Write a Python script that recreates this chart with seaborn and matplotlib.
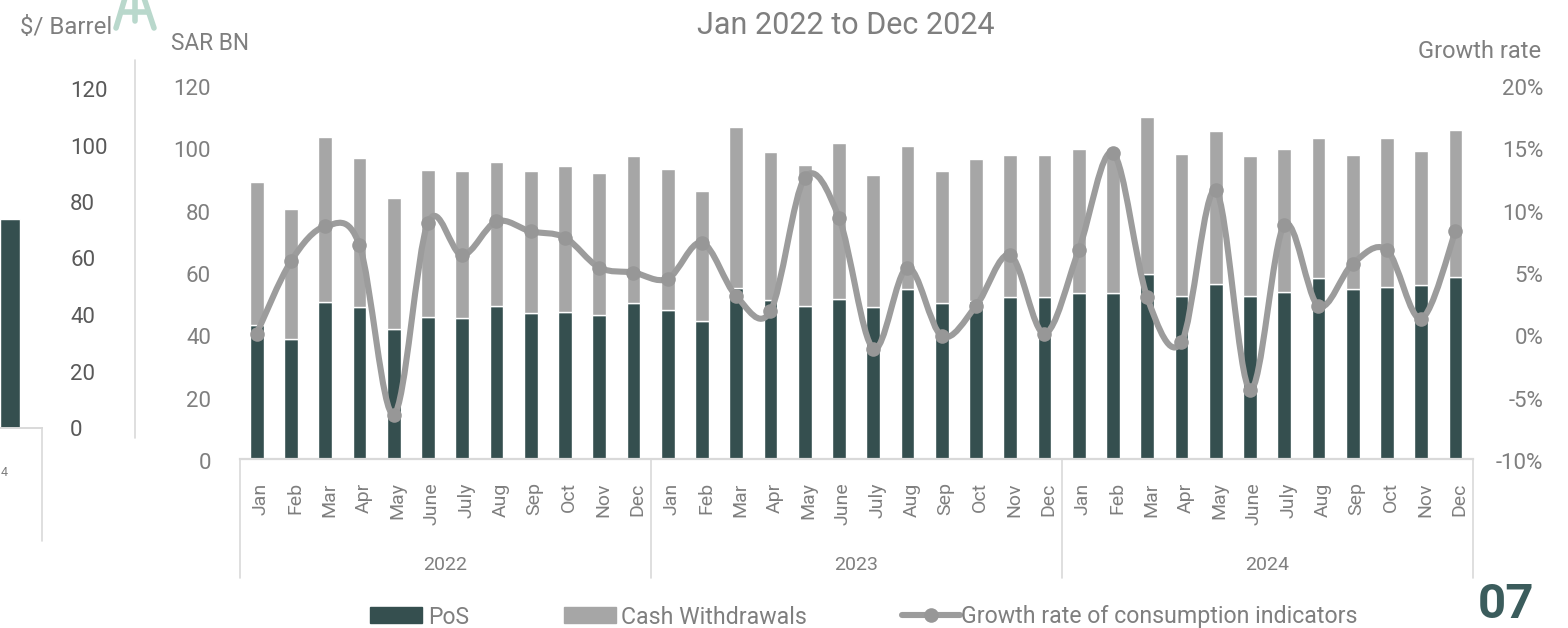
import matplotlib
matplotlib.use("Agg")
import matplotlib.pyplot as plt
from matplotlib.lines import Line2D
from matplotlib.patches import PathPatch, Rectangle
from matplotlib.path import Path
from matplotlib.transforms import ScaledTranslation
import numpy as np
import pandas as pd
import seaborn as sns

years = ["2022", "2023", "2024"]
months = ["Jan", "Feb", "Mar", "Apr", "May", "June", "July", "Aug", "Sep", "Oct", "Nov", "Dec"]

pos_values = [43.1, 38.5, 50.5, 49.0, 41.9, 45.6, 45.4, 49.2, 47.1, 47.3, 46.4, 50.2,
              47.9, 44.4, 55.0, 51.2, 49.3, 51.5, 48.9, 54.7, 50.2, 50.9, 52.0, 52.0,
              53.4, 53.4, 59.4, 52.5, 56.2, 52.4, 53.7, 58.2, 54.6, 55.3, 56.0, 58.7]
cash_values = [45.9, 41.8, 53.0, 47.7, 41.9, 47.3, 47.1, 46.3, 45.5, 46.9, 45.4, 47.3,
               45.2, 41.8, 51.8, 47.4, 45.1, 50.2, 42.4, 46.0, 42.3, 45.4, 45.6, 45.7,
               46.1, 46.1, 50.6, 45.5, 49.2, 44.9, 45.9, 45.0, 43.1, 47.8, 43.0, 47.2]
growth_values = [0.1, 5.9, 8.7, 7.2, -6.4, 9.0, 6.4, 9.1, 8.3, 7.8, 5.4, 5.0,
                 4.5, 7.4, 3.1, 1.9, 12.6, 9.4, -1.1, 5.4, -0.1, 2.3, 6.4, 0.1,
                 6.8, 14.6, 3.0, -0.6, 11.6, -4.4, 8.8, 2.3, 5.7, 6.8, 1.3, 8.3]
oil_price = [74]

bar_ticks = [0, 20, 40, 60, 80, 100, 120]
growth_ticks = [-10, -5, 0, 5, 10, 15, 20]

DARK = "#354F4F"
GREY_BAR = "#A6A6A6"
GREY_LINE = "#9C9C9C"
GREY_MARK = "#979797"
TEXT = "#7F7F7F"
RULE = "#D9D9D9"
W, H = 1568, 628

sns.set_theme(style="white")
plt.rcParams["font.family"] = ["Roboto", "DejaVu Sans"]

fig = plt.figure(figsize=(W / 100, H / 100), dpi=100, facecolor="white")


def rect(x0, ytop, x1, ybot):
    return [x0 / W, 1 - ybot / H, (x1 - x0) / W, (ybot - ytop) / H]


def label(x, y, s, size=14, color=TEXT, ha="left", va="center", **kw):
    fig.text(x / W, 1 - y / H, s, fontsize=size, color=color, ha=ha, va=va, **kw)


def rule(xs, ys, color=RULE, lw=1.2, **kw):
    fig.add_artist(Line2D([x / W for x in xs], [1 - y / H for y in ys],
                          transform=fig.transFigure, color=color, lw=lw, **kw))


def nudge(labels, dx_px=0, dy_px=0):
    shift = ScaledTranslation(dx_px / 100, dy_px / 100, fig.dpi_scale_trans)
    for lab in labels:
        lab.set_transform(lab.get_transform() + shift)


# Main panel: stacked monthly bars
ax = fig.add_axes(rect(239.6, 85.6, 1472.6, 459.4))
frame = pd.DataFrame({
    "period": [f"{y} {m}" for y in years for m in months],
    "pos": pos_values,
    "cash": cash_values,
})
sns.barplot(data=frame, x="period", y="pos", color=DARK, saturation=1, width=0.4, ax=ax)
sns.barplot(data=frame, x="period", y="cash", bottom=frame["pos"], color=GREY_BAR,
            saturation=1, width=0.4, ax=ax)
ax.set_xlim(-0.5, 35.5)
ax.set_ylim(0, 120)
ax.set_xlabel("")
ax.set_ylabel("")
ax.set_yticks(bar_ticks)
ax.tick_params(axis="y", length=0, pad=20.6, labelsize=16, labelcolor=TEXT)
ax.set_xticks(range(36))
ax.set_xticklabels(months * 3, rotation=90, va="top", ha="center", fontsize=14, color=TEXT)
ax.tick_params(axis="x", length=0, pad=16.5)
nudge(ax.get_yticklabels(), dy_px=-1.5)
nudge(ax.get_xticklabels(), dx_px=4)
for name in ("top", "left", "right"):
    ax.spines[name].set_visible(False)
ax.spines["bottom"].set_color(RULE)
ax.spines["bottom"].set_linewidth(1.6)

# Year brackets beneath the month labels
for x in (239.6, 651, 1062, 1472.6):
    rule([x, x], [460, 578])
for i, y in enumerate(years):
    ax.text(5.5 + 12 * i, -0.283, y, transform=ax.get_xaxis_transform(),
            ha="center", va="center", fontsize=14, color=TEXT)

# Growth rate on the secondary axis, smoothed between monthly values
axr = ax.twinx()
axr.set_ylim(-10, 20)
axr.set_yticks(growth_ticks)
axr.set_yticklabels([f"{t}%" for t in growth_ticks])
axr.tick_params(axis="y", length=0, pad=51, labelsize=16, labelcolor=TEXT)
for lab in axr.get_yticklabels():
    lab.set_ha("right")
nudge(axr.get_yticklabels(), dy_px=-1.5)
for spine in axr.spines.values():
    spine.set_visible(False)

xs = np.arange(36.0)
ys = np.array(growth_values)
verts = [(xs[0], ys[0])]
codes = [Path.MOVETO]
for i in range(35):
    prev_i, next_i = max(i - 1, 0), min(i + 2, 35)
    c1 = (xs[i] + (xs[i + 1] - xs[prev_i]) / 6, ys[i] + (ys[i + 1] - ys[prev_i]) / 6)
    c2 = (xs[i + 1] - (xs[next_i] - xs[i]) / 6, ys[i + 1] - (ys[next_i] - ys[i]) / 6)
    verts += [c1, c2, (xs[i + 1], ys[i + 1])]
    codes += [Path.CURVE4] * 3
axr.add_patch(PathPatch(Path(verts, codes), fill=False, edgecolor=GREY_LINE, lw=4.4,
                        capstyle="round", joinstyle="round", zorder=3))
sns.scatterplot(x=xs, y=ys, ax=axr, color=GREY_MARK, s=110, linewidth=0, zorder=4, legend=False)
axr.set_xlim(-0.5, 35.5)
axr.set_ylim(-10, 20)

# Neighbouring oil price panel, cut off by the page edge
axl = fig.add_axes(rect(0, 89, 41.7, 428))
sns.barplot(x=["2024"], y=oil_price, color=DARK, saturation=1, width=0.8, ax=axl)
axl.set_xlim(0.4 - 0.8, 0.4 + 0.8 * 21.7 / 20)
axl.set_ylim(0, 120)
axl.set_xlabel("")
axl.set_xticks([])
axl.set_yticks(bar_ticks)
axl.yaxis.tick_right()
axl.tick_params(axis="y", length=0, pad=20.5, labelsize=16, labelcolor="#595959")
for name in ("top", "left", "right"):
    axl.spines[name].set_visible(False)
axl.spines["bottom"].set_color(RULE)
axl.spines["bottom"].set_linewidth(1.4)
rule([41.7, 41.7], [428, 541])
rule([135.3, 135.3], [60, 438])
label(1, 472, "4", size=9)

# Headings and axis captions
label(846, 26, "Jan 2022 to Dec 2024", size=22, ha="center")
label(20, 27, "$/ Barrel", size=17.3)
label(171, 44, "SAR BN", size=16.3)
label(1541, 51, "Growth rate", size=17, ha="right")
label(1506, 605, "07", size=35.5, color="#3B5C5C", ha="center", fontweight="bold")

# Derrick emblem
EMBLEM = "#B9D8CC"
for seg in ([(125, -2), (116, 28)], [(144, -2), (154, 28)], [(135, -2), (135, 21)], [(122, 12), (148, 12)]):
    rule([p[0] for p in seg], [p[1] for p in seg], color=EMBLEM, lw=4, solid_capstyle="round")

# Legend
fig.add_artist(Rectangle((370 / W, 1 - 623 / H), 52 / W, 16 / H, color=DARK, transform=fig.transFigure))
fig.add_artist(Rectangle((564 / W, 1 - 623 / H), 52 / W, 16 / H, color=GREY_BAR, transform=fig.transFigure))
rule([902, 960], [615, 615], color=GREY_LINE, lw=4.4)
rule([931], [615], color=GREY_MARK, lw=0, marker="o", markersize=10.5, markeredgewidth=0)
label(428, 617, "PoS", size=16.5)
label(621, 617, "Cash Withdrawals", size=16.7)
label(961, 617, "Growth rate of consumption indicators", size=16.7)

fig.savefig("out.png", dpi=100, facecolor="white")
